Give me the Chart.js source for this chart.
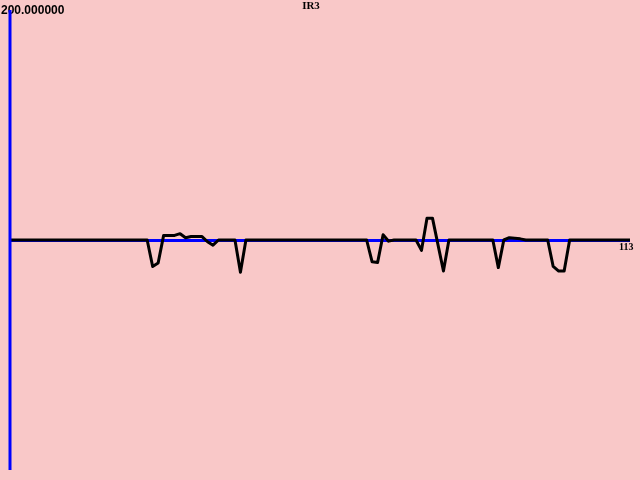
<!DOCTYPE html>
<html>
<head>
<meta charset="utf-8">
<script src="https://cdn.jsdelivr.net/npm/chart.js@4/dist/chart.umd.min.js"></script>
<style>
html,body{margin:0;padding:0;background:#F9C8C8;}
canvas{display:block;}
</style>
</head>
<body>
<canvas id="c" width="640" height="480"></canvas>
<script>
const chartTitle = "IR3";
const yMaxLabel = "200.000000";
const xMaxLabel = "113";
const xMin = 0, xMax = 113;
const yMin = -200, yMax = 200;

// sample index -> value (all other samples are 0)
const eventIdx = [25, 26, 27, 28, 29, 30, 31, 32, 33, 34, 35, 36, 37, 38,
                  41, 42, 43,
                  65, 66, 67, 68, 69, 70,
                  74, 75, 76, 77, 78, 79, 80,
                  88, 89, 90, 91, 92, 93, 94,
                  98, 99, 100, 101, 102];
const eventVal = [0, -23, -20, 4, 4, 4, 5.5, 2, 3, 3, 3, -1.5, -4.5, 0,
                  0, -28, 0,
                  0, -19, -19.5, 4.5, -1, 0,
                  0, -9, 19, 19, -4, -27, 0,
                  0, -24, 0, 2, 1.5, 1, 0,
                  0, -23, -27, -27, 0];

const values = [];
for (let i = xMin; i <= xMax; i++) {
  const k = eventIdx.indexOf(i);
  values.push({x: i, y: k >= 0 ? eventVal[k] : 0});
}

const decor = {
  id: 'decor',
  beforeDraw(chart) {
    const c = chart.ctx;
    c.save();
    c.fillStyle = '#F9C8C8';
    c.fillRect(0, 0, chart.width, chart.height);
    c.restore();
  },
  beforeDatasetsDraw(chart) {
    const c = chart.ctx, xs = chart.scales.x, ys = chart.scales.y;
    c.save();
    c.strokeStyle = '#0000FF';
    c.lineWidth = 3;
    c.beginPath();
    c.moveTo(xs.getPixelForValue(xMin), ys.getPixelForValue(0) + 0.5);
    c.lineTo(xs.getPixelForValue(xMax), ys.getPixelForValue(0) + 0.5);
    c.stroke();
    c.restore();
  },
  afterDatasetsDraw(chart) {
    const c = chart.ctx, xs = chart.scales.x, ys = chart.scales.y;
    c.save();
    c.fillStyle = '#000';
    c.textBaseline = 'middle';
    c.font = 'bold 11px "Liberation Serif"';
    c.textAlign = 'center';
    c.fillText(chartTitle, 311, 6);
    c.font = 'bold 12px "Liberation Sans"';
    c.textAlign = 'left';
    c.fillText(yMaxLabel, 1, ys.getPixelForValue(yMax) + 1);
    c.font = 'bold 10px "Liberation Serif"';
    c.fillText(xMaxLabel, xs.getPixelForValue(xMax) - 11, ys.getPixelForValue(0) + 7);
    c.strokeStyle = '#0000FF';
    c.lineWidth = 3;
    c.beginPath();
    c.moveTo(xs.getPixelForValue(xMin), ys.getPixelForValue(yMax));
    c.lineTo(xs.getPixelForValue(xMin), ys.getPixelForValue(yMin));
    c.stroke();
    c.restore();
  }
};

new Chart(document.getElementById('c'), {
  type: 'line',
  data: {
    datasets: [{
      data: values,
      borderColor: '#000000',
      borderWidth: 3,
      borderJoinStyle: 'round',
      borderCapStyle: 'round',
      pointRadius: 0,
      tension: 0,
      fill: false
    }]
  },
  options: {
    responsive: false,
    animation: false,
    layout: {padding: {left: 10, right: 10, top: 10, bottom: 10}},
    plugins: {legend: {display: false}, tooltip: {enabled: false}, title: {display: false}},
    scales: {
      x: {type: 'linear', min: xMin, max: xMax, display: false},
      y: {type: 'linear', min: yMin, max: yMax, display: false}
    }
  },
  plugins: [decor]
});
</script>
</body>
</html>
